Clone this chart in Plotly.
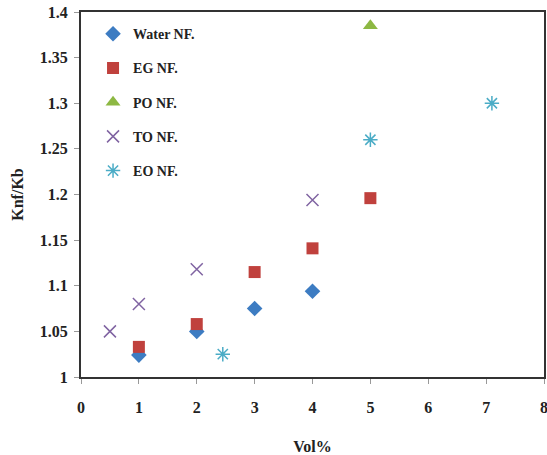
import plotly.graph_objects as go

water_x = [1, 2, 3, 4]
water_y = [1.024, 1.05, 1.075, 1.094]
eg_x = [1, 2, 3, 4, 5]
eg_y = [1.033, 1.058, 1.115, 1.141, 1.196]
po_x = [5]
po_y = [1.385]
to_x = [0.5, 1, 2, 4]
to_y = [1.05, 1.08, 1.118, 1.194]
eo_x = [2.45, 5, 7.1]
eo_y = [1.025, 1.26, 1.30]

series = [
    ("Water NF.", water_x, water_y, "diamond", "#3D7CC2", 12),
    ("EG NF.", eg_x, eg_y, "square", "#C0413D", 12),
    ("PO NF.", po_x, po_y, "triangle-up", "#8DB843", 13),
    ("TO NF.", to_x, to_y, "x-thin-open", "#8064A2", 12),
    ("EO NF.", eo_x, eo_y, "asterisk-open", "#4BACC6", 12),
]

fig = go.Figure()
for i, (name, xs, ys, sym, col, sz) in enumerate(series):
    fig.add_trace(go.Scatter(
        x=xs, y=ys, mode="markers", name=name, legendgroup=str(i),
        marker=dict(symbol=sym, color=col, size=sz,
                    line=dict(color=col, width=1.5 if "open" in sym else 0)),
    ))

font = "Liberation Serif, Times New Roman, serif"
fig.update_layout(
    width=547, height=455,
    margin=dict(l=81, r=3, t=12, b=78),
    plot_bgcolor="white", paper_bgcolor="white",
    font=dict(family=font, color="#222", size=14),
    showlegend=True,
    legend=dict(x=0.026, y=0.983, xanchor="left", yanchor="top",
                bgcolor="rgba(0,0,0,0)", tracegroupgap=13,
                font=dict(family=font, size=14, color="#222", weight="bold"),
                itemwidth=30),
    xaxis=dict(range=[0, 8], dtick=1, showgrid=False, zeroline=False,
               showline=True, linecolor="#333", linewidth=2, mirror=True,
               ticks="outside", ticklen=5, tickcolor="#999",
               ticklabelstandoff=10, automargin=False,
               ticklabeloverflow="allow",
               tickfont=dict(family=font, size=16, weight="bold"),
               title=dict(text="<b>Vol%</b>", standoff=28,
                          font=dict(family=font, size=16))),
    yaxis=dict(range=[1.0, 1.4], dtick=0.05, showgrid=False, zeroline=False,
               showline=True, linecolor="#333", linewidth=2, mirror=True,
               ticks="outside", ticklen=5, tickcolor="#999",
               ticklabelstandoff=3, automargin=False,
               ticklabeloverflow="allow",
               tickfont=dict(family=font, size=16, weight="bold"),
               title=dict(text="<b>Knf/Kb</b>", standoff=12,
                          font=dict(family=font, size=16))),
)
fig.write_html("out.html")
